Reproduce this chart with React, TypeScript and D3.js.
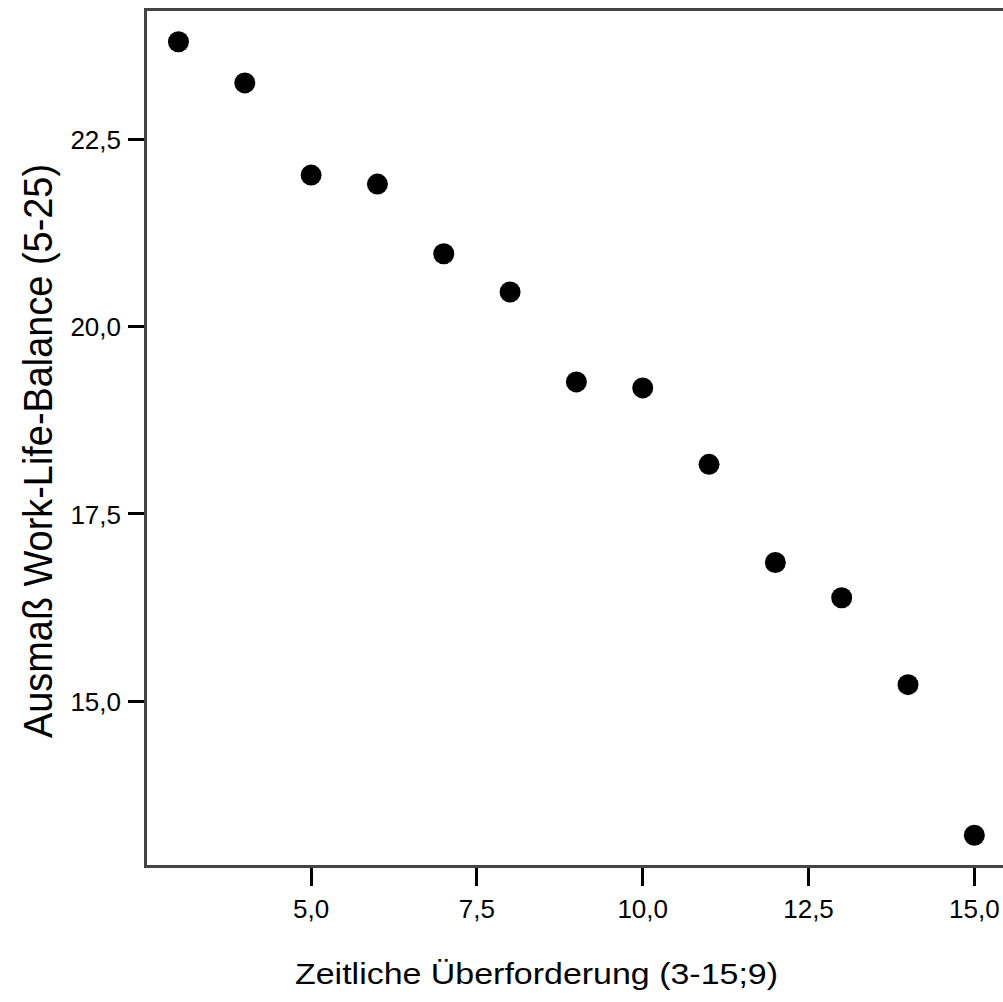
import React, { useEffect, useRef } from "react";
import * as d3 from "d3";

// Zeitliche Überforderung (x) vs. mean Work-Life-Balance (y)
const xValues = [3, 4, 5, 6, 7, 8, 9, 10, 11, 12, 13, 14, 15];
const yValues = [23.8, 23.25, 22.02, 21.9, 20.97, 20.46, 19.26, 19.18, 18.16, 16.85, 16.38, 15.22, 13.21];

const xTicks = [5, 7.5, 10, 12.5, 15];
const xTickLabels = ["5,0", "7,5", "10,0", "12,5", "15,0"];
const yTicks = [15, 17.5, 20, 22.5];
const yTickLabels = ["15,0", "17,5", "20,0", "22,5"];

const xTitle = "Zeitliche Überforderung (3-15;9)";
const yTitle = "Ausmaß Work-Life-Balance (5-25)";

export default function App() {
  const svgRef = useRef<SVGSVGElement | null>(null);
  const width = 1003;
  const height = 1002;

  useEffect(() => {
    const svg = d3.select(svgRef.current);
    svg.selectAll("*").remove();

    const font = "'Liberation Sans', Arial, sans-serif";

    const x = d3.scaleLinear().domain([2.5, 15.5]).range([145.3, 1007.5]);
    const y = d3.scaleLinear().domain([12.8, 24.23]).range([866, 9.5]);

    svg.append("rect").attr("width", width).attr("height", height).attr("fill", "#fff");

    // frame
    svg
      .append("rect")
      .attr("x", x(2.5))
      .attr("y", y(24.23))
      .attr("width", x(15.5) - x(2.5))
      .attr("height", y(12.8) - y(24.23))
      .attr("fill", "none")
      .attr("stroke", "#444")
      .attr("stroke-width", 3)
      .style("shape-rendering", "crispEdges");

    // x ticks
    const xg = svg.append("g");
    xTicks.forEach((t, i) => {
      xg.append("line")
        .attr("x1", x(t))
        .attr("x2", x(t))
        .attr("y1", 867.5)
        .attr("y2", 886)
        .attr("stroke", "#000")
        .attr("stroke-width", 3)
        .style("shape-rendering", "crispEdges");
      xg.append("text")
        .attr("x", x(t))
        .attr("y", 918)
        .attr("text-anchor", "middle")
        .attr("font-family", font)
        .attr("font-size", 26)
        .attr("fill", "#000")
        .text(xTickLabels[i]);
    });

    // y ticks
    const yg = svg.append("g");
    yTicks.forEach((t, i) => {
      yg.append("line")
        .attr("x1", 128)
        .attr("x2", 144)
        .attr("y1", y(t))
        .attr("y2", y(t))
        .attr("stroke", "#000")
        .attr("stroke-width", 3)
        .style("shape-rendering", "crispEdges");
      yg.append("text")
        .attr("x", 121)
        .attr("y", y(t) + 10)
        .attr("text-anchor", "end")
        .attr("font-family", font)
        .attr("font-size", 26)
        .attr("fill", "#000")
        .text(yTickLabels[i]);
    });

    // points
    svg
      .append("g")
      .selectAll("circle")
      .data(xValues.map((v, i) => ({ x: v, y: yValues[i] })))
      .enter()
      .append("circle")
      .attr("cx", (d) => x(d.x))
      .attr("cy", (d) => y(d.y))
      .attr("r", 10.5)
      .attr("fill", "#000");

    // axis titles
    svg
      .append("text")
      .attr("x", 536.5)
      .attr("y", 984)
      .attr("text-anchor", "middle")
      .attr("font-family", font)
      .attr("font-size", 30)
      .attr("textLength", 483)
      .attr("lengthAdjust", "spacingAndGlyphs")
      .attr("fill", "#000")
      .text(xTitle);

    svg
      .append("text")
      .attr("transform", "translate(52,451) rotate(-90)")
      .attr("text-anchor", "middle")
      .attr("font-family", font)
      .attr("font-size", 41)
      .attr("textLength", 574)
      .attr("lengthAdjust", "spacingAndGlyphs")
      .attr("fill", "#000")
      .text(yTitle);
  }, []);

  return (
    <svg
      ref={svgRef}
      width={width}
      height={height}
      style={{ display: "block", position: "absolute", left: 0, top: 0 }}
    ></svg>
  );
}
